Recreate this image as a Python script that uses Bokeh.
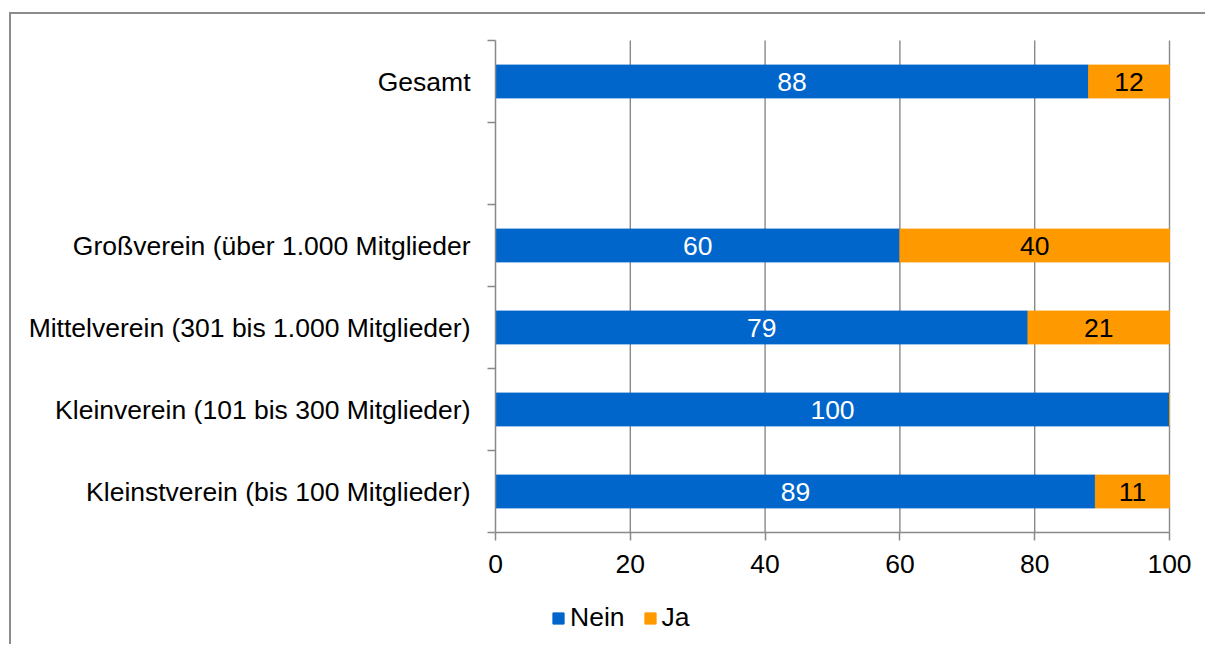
from bokeh.plotting import figure
from bokeh.models import ColumnDataSource, FixedTicker, Legend, LegendItem
from bokeh.core.properties import value
from bokeh.embed import file_html
from bokeh.resources import INLINE

categories = ["Kleinstverein (bis 100 Mitglieder)",
              "Kleinverein (101 bis 300 Mitglieder)",
              "Mittelverein (301 bis 1.000 Mitglieder)",
              "Großverein (über 1.000 Mitglieder",
              "",
              "Gesamt"]
nein = [89, 100, 79, 60, None, 88]
ja = [11, 0, 21, 40, None, 12]
x_ticks = [0, 20, 40, 60, 80, 100]

BLUE = "#0066CC"
ORANGE = "#FF9900"
GRAY = "#898989"
FONT = "Liberation Sans"
FS = "26.5px"

# layout geometry (pixels, relative to the figure canvas)
W, H = 1196, 632
PLOT_L, PLOT_R, PLOT_T = 484, 1158, 26   # where 0, 100 and the top of the axis fall
PX_PER_CAT = 82
n_cat = len(categories)
xmax = x_ticks[-1]
px_per_x = (PLOT_R - PLOT_L) / xmax
plot_b = PLOT_T + n_cat * PX_PER_CAT

x_range = (-PLOT_L / px_per_x, xmax + (W - PLOT_R) / px_per_x)
y_range = (-(H - plot_b) / PX_PER_CAT, n_cat + PLOT_T / PX_PER_CAT)

p = figure(width=W, height=H, output_backend="svg", toolbar_location=None,
           x_range=x_range, y_range=y_range)
p.styles = {"border-left": "2px solid #8c8c8c", "border-top": "2px solid #8c8c8c",
            "margin-left": "9px", "margin-top": "12px"}
p.min_border_left = 0
p.min_border_right = 0
p.min_border_top = 0
p.min_border_bottom = 0
p.outline_line_color = None
p.background_fill_color = "white"
p.border_fill_color = "white"

# vertical gridlines (between axis extents)
grid_x = x_ticks[1:]
p.segment(x0=grid_x, x1=grid_x, y0=[0] * len(grid_x), y1=[n_cat] * len(grid_x),
          line_color=GRAY, line_width=1.4)

rows = [(i + 0.5, n, j) for i, (n, j) in enumerate(zip(nein, ja)) if n is not None]
ys = [r[0] for r in rows]
nv = [r[1] for r in rows]
jv = [r[2] for r in rows]
src = ColumnDataSource(dict(y=ys, nein=nv, ja_left=nv, ja_right=[a + b for a, b in zip(nv, jv)],
                            nein_mid=[a / 2 for a in nv], nein_lbl=[str(a) for a in nv]))
r1 = p.hbar(y="y", left=0, right="nein", height=0.4, color=BLUE, source=src)
r2 = p.hbar(y="y", left="ja_left", right="ja_right", height=0.4, color=ORANGE, source=src)

p.text(x="nein_mid", y="y", text="nein_lbl", source=src, text_color="white",
       text_font=value(FONT), text_font_size=FS, text_align="center", text_baseline="middle")
keep = [i for i in range(len(jv)) if jv[i] > 0]
ja_src = ColumnDataSource(dict(x=[nv[i] + jv[i] / 2 for i in keep],
                               y=[ys[i] for i in keep],
                               t=[str(jv[i]) for i in keep]))
p.text(x="x", y="y", text="t", source=ja_src, text_color="black",
       text_font=value(FONT), text_font_size=FS, text_align="center", text_baseline="middle")

# x axis, fixed at y = 0
p.xaxis.fixed_location = 0
p.xaxis.bounds = (0, xmax)
p.xaxis.ticker = FixedTicker(ticks=x_ticks, minor_ticks=[])
p.xaxis.axis_line_color = GRAY
p.xaxis.axis_line_width = 1.5
p.xaxis.major_tick_line_color = GRAY
p.xaxis.major_tick_line_width = 1.5
p.xaxis.major_tick_in = 0
p.xaxis.major_tick_out = 8
p.xaxis.major_label_text_font = FONT
p.xaxis.major_label_text_font_size = FS
p.xaxis.major_label_text_color = "black"
p.xaxis.major_label_standoff = 14

# y axis fixed at x = 0: labels at category centres, ticks between categories
centers = [i + 0.5 for i in range(n_cat)]
p.yaxis.fixed_location = 0
p.yaxis.bounds = (0, n_cat)
p.yaxis.ticker = FixedTicker(ticks=centers, minor_ticks=list(range(n_cat + 1)))
p.yaxis.major_label_overrides = {c: lab for c, lab in zip(centers, categories)}
p.yaxis.axis_line_color = GRAY
p.yaxis.axis_line_width = 1.5
p.yaxis.major_tick_line_color = None
p.yaxis.major_tick_in = 0
p.yaxis.major_tick_out = 0
p.yaxis.minor_tick_line_color = GRAY
p.yaxis.minor_tick_line_width = 1.5
p.yaxis.minor_tick_in = 0
p.yaxis.minor_tick_out = 8
p.yaxis.major_label_text_font = FONT
p.yaxis.major_label_text_font_size = FS
p.yaxis.major_label_text_color = "black"
p.yaxis.major_label_standoff = 17

p.xgrid.grid_line_color = None
p.ygrid.grid_line_color = None

legend = Legend(items=[LegendItem(label="Nein", renderers=[r1]),
                       LegendItem(label="Ja", renderers=[r2])],
                orientation="horizontal", location=(540, 13))
legend.label_text_font = FONT
legend.label_text_font_size = FS
legend.label_text_color = "black"
legend.glyph_width = 14
legend.glyph_height = 14
legend.label_standoff = 5
legend.spacing = 18
legend.padding = 0
legend.margin = 0
legend.border_line_color = None
legend.background_fill_alpha = 0
p.add_layout(legend, "center")

open("out.html", "w").write(file_html(p, INLINE))
